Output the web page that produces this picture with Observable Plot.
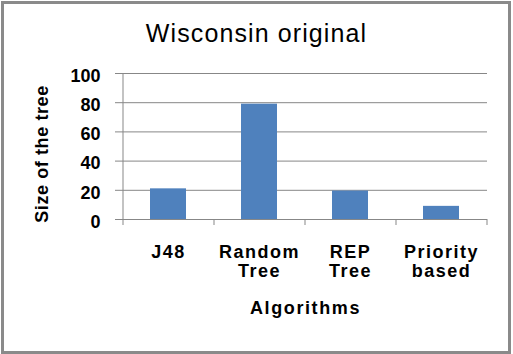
<!DOCTYPE html>
<html>
<head>
<meta charset="utf-8">
<script src="https://cdn.jsdelivr.net/npm/d3@7"></script>
<script src="https://cdn.jsdelivr.net/npm/@observablehq/plot@0.6"></script>
<style>
  html, body { margin: 0; padding: 0; background: #fff; }
  #wrap { position: relative; width: 513px; height: 354px; overflow: hidden; font-family: "Liberation Sans", Arial, sans-serif; }
  #frame { position: absolute; left: 1px; top: 1px; width: 504px; height: 347px; border: 3px solid #8a8a8a; pointer-events: none; }
  #title { position: absolute; left: 0; width: 513px; top: 19px; text-align: center; font-size: 25px; letter-spacing: 1.1px; color: #000; }
  #chart { position: absolute; left: 0; top: 0; }
</style>
</head>
<body>
<div id="wrap">
  <div id="chart"></div>
  <div id="title">Wisconsin original</div>
  <div id="frame"></div>
</div>
<script>
const categories = ["J48", "Random Tree", "REP Tree", "Priority based"];
const tickLabels = ["J48", "Random\nTree", "REP\nTree", "Priority\nbased"];
const values = [21, 79, 19.5, 9];
const yTicks = [0, 20, 40, 60, 80, 100];

const data = categories.map((c, i) => ({cat: c, value: values[i]}));
const labelOf = new Map(categories.map((c, i) => [c, tickLabels[i]]));

const gray = "#878787";
const chart = Plot.plot({
  width: 513,
  height: 354,
  marginLeft: 123,
  marginRight: 26,
  marginTop: 73,
  marginBottom: 135,
  style: {fontFamily: "'Liberation Sans', Arial, sans-serif", background: "transparent"},
  x: {domain: categories, paddingInner: 0.6, paddingOuter: 0.3, align: 0.5},
  y: {type: "linear", domain: [0, 100]},
  marks: [
    Plot.gridY(yTicks, {stroke: gray, strokeOpacity: 1, strokeWidth: 1}),
    Plot.barY(data, {x: "cat", y: "value", fill: "#4F81BD"}),
    Plot.ruleY([0], {stroke: gray, strokeWidth: 1}),
    Plot.axisY(yTicks, {
      tickSize: 8, tickPadding: 15, stroke: gray, label: null, text: null
    }),
    Plot.axisY(yTicks, {
      tickSize: 0, tickPadding: 23, label: null, dy: 2.5,
      fontSize: 18, fontWeight: "bold", fill: "#000"
    }),
    // vertical axis line at left edge of first band
    Plot.ruleX([categories[0]], {x: d => d, dx: -45.5, y1: 0, y2: 100, stroke: gray}),
    // category boundary ticks below the baseline
    Plot.ruleX(categories, {x: d => d, dx: -45.5, y1: 0, y2: 0, insetBottom: -6, stroke: gray}),
    Plot.ruleX([categories[categories.length - 1]], {x: d => d, dx: 45.5, y1: 0, y2: 0, insetBottom: -6, stroke: gray}),
    Plot.axisX({
      tickSize: 0, tickPadding: 25, label: null,
      tickFormat: d => labelOf.get(d),
      fontSize: 18, fontWeight: "bold", fill: "#000", lineHeight: 1.05
    }),
    Plot.text(["Size of the tree"], {
      frameAnchor: "left", textAnchor: "middle", rotate: -90, dx: -81.5, dy: 7.5, text: d => d,
      fontSize: 18, fontWeight: "bold", fill: "#000"
    }),
    Plot.text(["Algorithms"], {
      frameAnchor: "bottom", textAnchor: "middle", dy: 94, text: d => d,
      fontSize: 18, fontWeight: "bold", fill: "#000"
    })
  ]
});
// letter spacing to mimic the wider GDI text rendering of the original
const sel = d3.select(chart);
sel.selectAll("g[aria-label='x-axis tick label'] text").attr("letter-spacing", "1.5px");
sel.selectAll("g[aria-label='text'] text").each(function() {
  d3.select(this).attr("letter-spacing", this.textContent === "Algorithms" ? "1.6px" : "0.6px");
});
document.getElementById("chart").appendChild(chart);
</script>
</body>
</html>
